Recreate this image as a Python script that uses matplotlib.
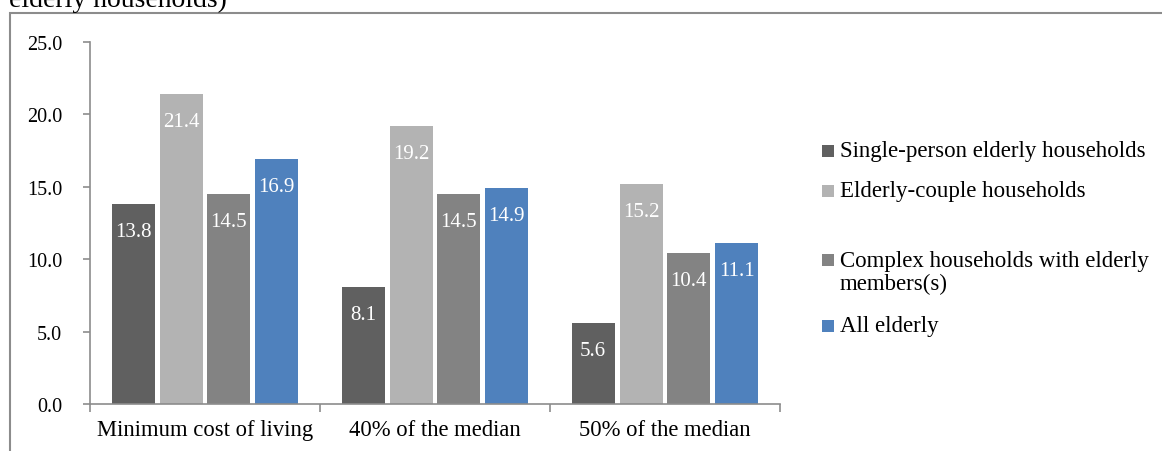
import matplotlib
matplotlib.use("Agg")
import matplotlib.pyplot as plt
from matplotlib.patches import Rectangle
import numpy as np

plt.rcParams['font.family'] = ['Liberation Serif', 'DejaVu Serif']

categories = ["Minimum cost of living", "40% of the median", "50% of the median"]
series_names = ["Single-person elderly households",
                "Elderly-couple households",
                "Complex households with elderly\nmembers(s)",
                "All elderly"]
single_person = [13.8, 8.1, 5.6]
elderly_couple = [21.4, 19.2, 15.2]
complex_households = [14.5, 14.5, 10.4]
all_elderly = [16.9, 14.9, 11.1]
y_ticks = [0, 5, 10, 15, 20, 25]

series = [single_person, elderly_couple, complex_households, all_elderly]
colors = ["#606060", "#b3b3b3", "#838383", "#4f81bd"]

W, H = 1162, 452
fig = plt.figure(figsize=(W / 100, H / 100), dpi=100)

# outer chart frame (only top and left edges fall inside the image)
fig.patches.append(Rectangle((10 / W, -0.1), 1.2, (H - 14) / H + 0.1,
                             transform=fig.transFigure, fill=False,
                             edgecolor="#8c8c8c", lw=1.5))
fig.text(9 / W, 1 - 7 / H, "elderly households)", fontsize=20,
         ha="left", va="baseline", color="black")

ax = fig.add_axes([90 / W, (H - 405) / H, 690 / W, 362 / H])
ax.set_xlim(0, 3)
ax.set_ylim(0, 25)

bar_w = 0.187
step = 0.208
centers = np.arange(len(categories)) + 0.5
for i, (vals, col) in enumerate(zip(series, colors)):
    xs = centers + (i - 1.5) * step
    ax.bar(xs, vals, width=bar_w, color=col, edgecolor="none")
    for x, v in zip(xs, vals):
        ax.text(x, v - 1.9, f"{v:.1f}", ha="center", va="center",
                color="white", fontsize=15)

for s in ["top", "right"]:
    ax.spines[s].set_visible(False)
for s in ["left", "bottom"]:
    ax.spines[s].set_color("#8c8c8c")
    ax.spines[s].set_linewidth(1.2)

ax.set_yticks(y_ticks)
ax.set_yticklabels([f"{t:.1f}" for t in y_ticks], fontsize=14.5)
ax.tick_params(axis="y", direction="out", length=5, width=1.2,
               color="#8c8c8c", pad=15)
ax.set_xticks([0, 1, 2, 3])
ax.set_xticklabels([])
ax.set_xticks(centers, minor=True)
ax.set_xticklabels(categories, minor=True, fontsize=16.3)
ax.tick_params(axis="x", which="major", direction="out", length=6,
               width=1.2, color="#8c8c8c")
ax.tick_params(axis="x", which="minor", length=0, pad=11)

# legend entries on the right
legend_y = [152, 192, 273, 327]
for name, col, yc in zip(series_names, colors, legend_y):
    first_line_y = yc - 12 if "\n" in name else yc
    fig.patches.append(Rectangle((822 / W, 1 - (first_line_y + 6) / H),
                                 12 / W, 12 / H, transform=fig.transFigure,
                                 facecolor=col, edgecolor="none"))
    fig.text(840 / W, 1 - yc / H, name, fontsize=16.5, ha="left",
             va="center", linespacing=1.15)

fig.savefig("out.png", dpi=100)
